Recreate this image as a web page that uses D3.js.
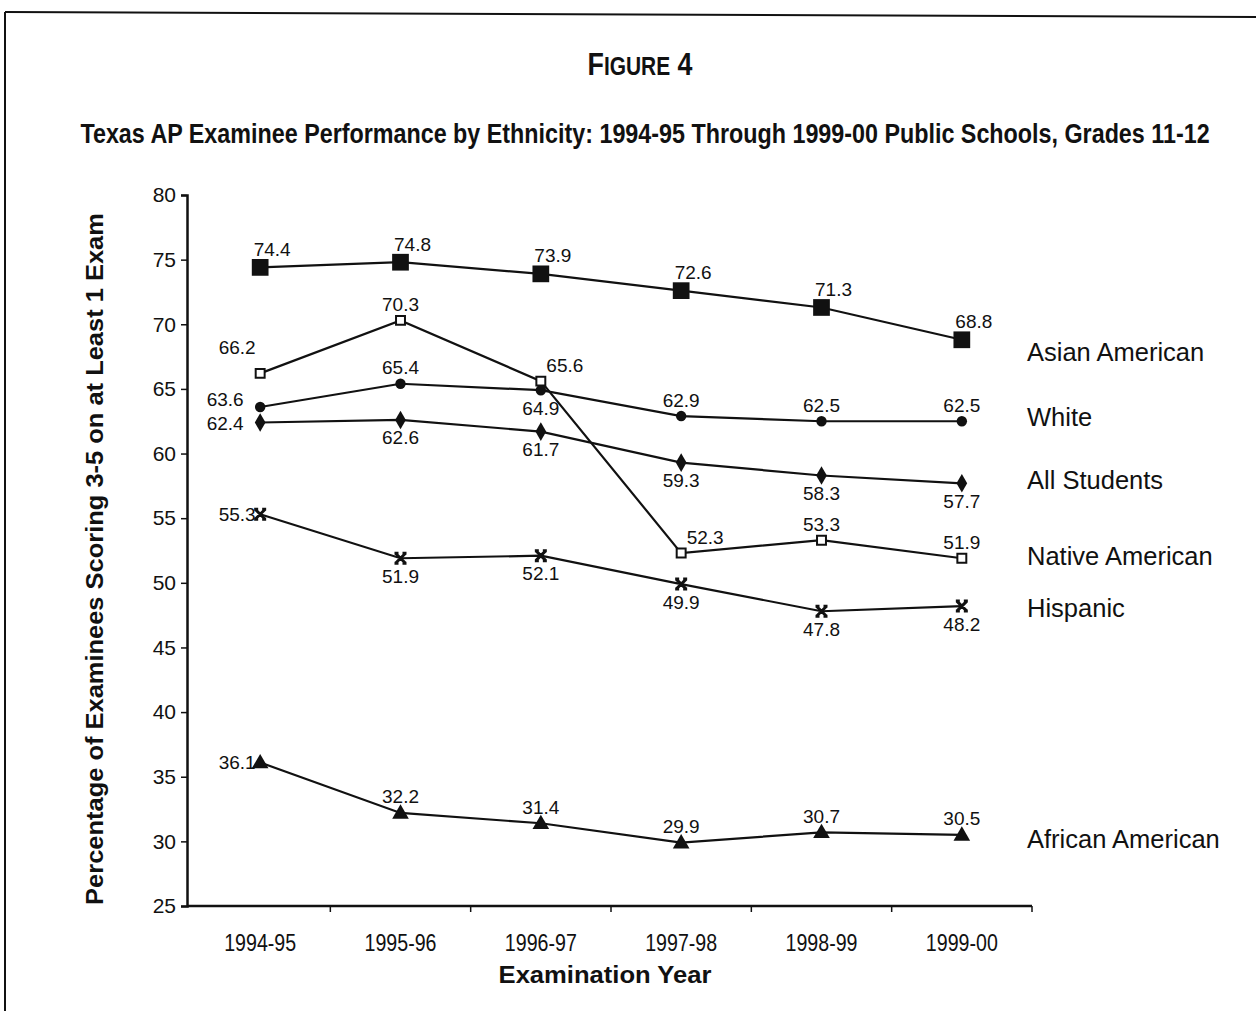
<!DOCTYPE html>
<html><head><meta charset="utf-8">
<script src="https://cdn.jsdelivr.net/npm/d3@7"></script>
<style>
body{margin:0;background:#fff}
svg{display:block}
</style>
</head><body>
<svg id="chart" width="1256" height="1011"></svg>
<script>
// ---- data ----
const years = ["1994-95", "1995-96", "1996-97", "1997-98", "1998-99", "1999-00"];
const asianAmerican   = [74.4, 74.8, 73.9, 72.6, 71.3, 68.8];
const nativeAmerican  = [66.2, 70.3, 65.6, 52.3, 53.3, 51.9];
const white           = [63.6, 65.4, 64.9, 62.9, 62.5, 62.5];
const allStudents     = [62.4, 62.6, 61.7, 59.3, 58.3, 57.7];
const hispanic        = [55.3, 51.9, 52.1, 49.9, 47.8, 48.2];
const africanAmerican = [36.1, 32.2, 31.4, 29.9, 30.7, 30.5];
const seriesNames = ["Asian American", "Native American", "White", "All Students", "Hispanic", "African American"];
const yTicks = [25, 30, 35, 40, 45, 50, 55, 60, 65, 70, 75, 80];

// ---- label placement codes (where each value label sits around its marker) ----
const placeCodes = {
  A:  {dx: 12,  dy: -18},
  a:  {dx: 0,   dy: -16},
  ar: {dx: 24,  dy: -16},
  al: {dx: -23, dy: -26},
  b:  {dx: 0,   dy: 18},
  lu: {dx: -35, dy: -8},
  ld: {dx: -35, dy: 1},
  lx: {dx: -23, dy: 0}
};

const series = [
  {name: seriesNames[0], values: asianAmerican,   marker: "bigSquare",  place: ["A","A","A","A","A","A"],   nameDy: 12},
  {name: seriesNames[1], values: nativeAmerican,  marker: "openSquare", place: ["al","a","ar","ar","a","a"], nameDy: -2},
  {name: seriesNames[2], values: white,           marker: "circle",     place: ["lu","a","b","a","a","a"],  nameDy: -4},
  {name: seriesNames[3], values: allStudents,     marker: "diamond",    place: ["ld","b","b","b","b","b"],  nameDy: -3},
  {name: seriesNames[4], values: hispanic,        marker: "cross",      place: ["lx","b","b","b","b","b"],  nameDy: 2},
  {name: seriesNames[5], values: africanAmerican, marker: "triangle",   place: ["lx","a","a","a","a","a"],  nameDy: 4}
];

const svg = d3.select("#chart");
const sans = "'Liberation Sans', Arial, Helvetica, sans-serif";
const ink = "#111";

// Places a centred text at (cx, cy) and squeezes it horizontally to the given width
// (gives the condensed look of the narrow typeface).
function condensed(parent, cx, cy, width, build, rotate) {
  const g = parent.append("g");
  const t = g.append("text").attr("text-anchor", "middle").attr("font-family", sans).attr("fill", ink);
  build(t);
  const w = t.node().getComputedTextLength();
  const k = width / w;
  g.attr("transform", `translate(${cx},${cy})${rotate ? " rotate(" + rotate + ")" : ""} scale(${k},1)`);
  return t;
}

// page frame
svg.append("line").attr("x1", 5).attr("y1", 12).attr("x2", 1256).attr("y2", 17)
  .attr("stroke", ink).attr("stroke-width", 2);
svg.append("line").attr("x1", 5).attr("y1", 12).attr("x2", 5).attr("y2", 1011)
  .attr("stroke", ink).attr("stroke-width", 2);

// titles
condensed(svg, 640, 75, 105, t => {
  t.attr("font-weight", "bold");
  t.append("tspan").attr("font-size", 32).text("F");
  t.append("tspan").attr("font-size", 25).text("IGURE");
  t.append("tspan").attr("font-size", 32).text(" 4");
});
condensed(svg, 645, 143, 1130, t => {
  t.attr("font-weight", "bold").attr("font-size", 28)
    .text("Texas AP Examinee Performance by Ethnicity: 1994-95 Through 1999-00 Public Schools, Grades 11-12");
});

// scales
const x = d3.scaleBand().domain(years).range([190, 1032]);
const cx = d => x(d) + x.bandwidth() / 2;
const y = d3.scaleLinear().domain([25, 80]).range([906, 195]);

// y axis
const yAxis = svg.append("g").attr("transform", "translate(187,0)")
  .call(d3.axisLeft(y).tickValues(yTicks).tickSize(6).tickPadding(5));
yAxis.select(".domain").attr("stroke", ink).attr("stroke-width", 2.5);
yAxis.selectAll(".tick line").attr("stroke", ink).attr("stroke-width", 1.5);
yAxis.selectAll(".tick text").attr("font-family", sans).attr("font-size", 21).attr("fill", ink);

// x axis: ticks sit on the category boundaries
const xg = svg.append("g").attr("transform", "translate(0,906)");
xg.append("line").attr("x1", 187).attr("x2", 1032).attr("stroke", ink).attr("stroke-width", 2.5);
const bounds = years.map(d => x(d)).concat([x.range()[1]]);
xg.selectAll(".xt").data(bounds.slice(1)).join("line").attr("class", "xt")
  .attr("x1", d => d).attr("x2", d => d).attr("y1", 0).attr("y2", 6)
  .attr("stroke", ink).attr("stroke-width", 1.5);
years.forEach(d => {
  condensed(xg, cx(d), 45, 72, t => t.attr("font-size", 23.5).text(d));
});

// axis titles
condensed(svg, 605, 983, 213, t => t.attr("font-weight", "bold").attr("font-size", 24).text("Examination Year"));
condensed(svg, 103, 559, 692, t => t.attr("font-weight", "bold").attr("font-size", 24)
  .text("Percentage of Examinees Scoring 3-5 on at Least 1 Exam"), -90);

// lines
const line = d3.line().x((v, i) => cx(years[i])).y(v => y(v));
const gLines = svg.append("g");
series.forEach(s => {
  gLines.append("path").attr("d", line(s.values)).attr("fill", "none")
    .attr("stroke", ink).attr("stroke-width", 2.2);
});

// markers
function drawMarker(g, type, px, py) {
  const t = `translate(${px},${py})`;
  if (type === "bigSquare") {
    g.append("path").attr("d", d3.symbol(d3.symbolSquare, 280)()).attr("transform", t).attr("fill", ink);
  } else if (type === "openSquare") {
    g.append("path").attr("d", d3.symbol(d3.symbolSquare, 80)()).attr("transform", t)
      .attr("fill", "#fff").attr("stroke", ink).attr("stroke-width", 2);
  } else if (type === "circle") {
    g.append("path").attr("d", d3.symbol(d3.symbolCircle, 85)()).attr("transform", t).attr("fill", ink);
  } else if (type === "diamond") {
    g.append("path").attr("d", d3.symbol(d3.symbolDiamond, 100)()).attr("transform", t).attr("fill", ink);
  } else if (type === "triangle") {
    g.append("path").attr("d", d3.symbol(d3.symbolTriangle, 120)()).attr("transform", `translate(${px},${py + 1})`).attr("fill", ink);
  } else if (type === "cross") {
    const r = 5;
    g.append("path").attr("d", `M${-r},${-r}L${r},${r}M${r},${-r}L${-r},${r}M${-r - 1},${-r}L${-r + 3},${-r}M${r - 3},${-r}L${r + 1},${-r}M${-r - 1},${r}L${-r + 3},${r}M${r - 3},${r}L${r + 1},${r}`)
      .attr("transform", t).attr("fill", "none").attr("stroke", ink).attr("stroke-width", 3);
  }
}
const gMarks = svg.append("g");
const gLabels = svg.append("g").attr("font-family", sans).attr("font-size", 19).attr("fill", ink);
series.forEach(s => {
  s.values.forEach((v, i) => {
    const px = cx(years[i]), py = y(v);
    drawMarker(gMarks, s.marker, px, py);
    const p = placeCodes[s.place[i]];
    gLabels.append("text").attr("x", px + p.dx).attr("y", py + p.dy)
      .attr("text-anchor", "middle").attr("dominant-baseline", "central").text(v.toFixed(1));
  });
  // series name to the right of the last point
  svg.append("text").attr("x", 1027).attr("y", y(s.values[s.values.length - 1]) + s.nameDy)
    .attr("dominant-baseline", "central").attr("font-family", sans).attr("font-size", 25.5).attr("fill", ink)
    .text(s.name);
});
</script>
</body></html>
